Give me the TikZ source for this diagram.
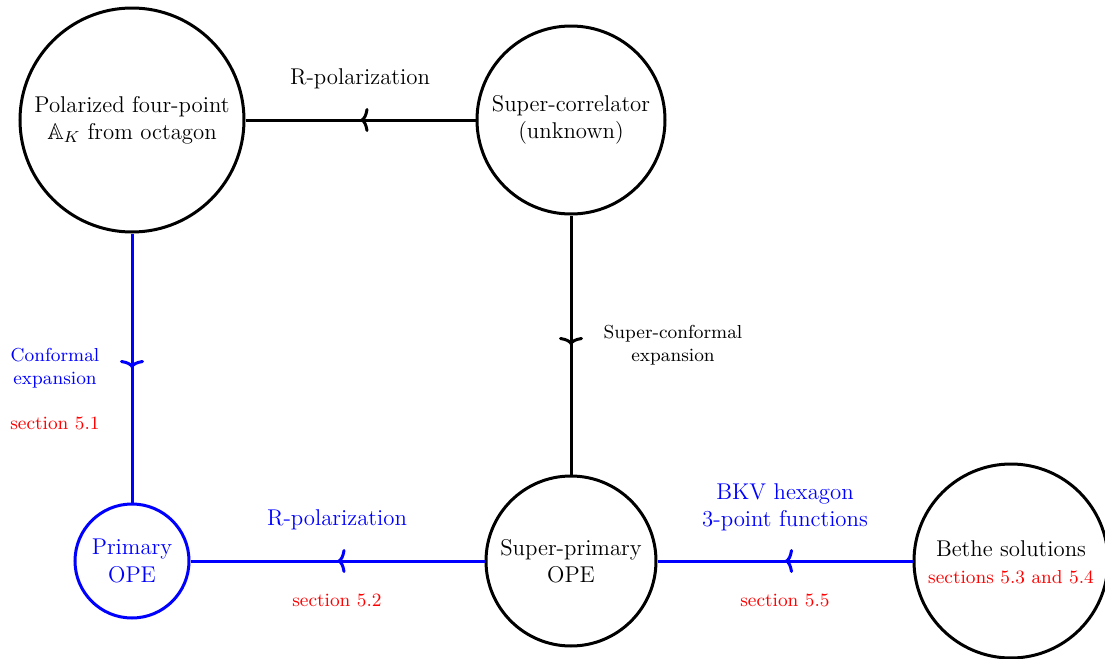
\documentclass[tikz,border=0pt]{standalone}
\usepackage{amssymb}
\usetikzlibrary{decorations.markings,arrows.meta}
\definecolor{myblue}{RGB}{0,0,255}
\definecolor{myred}{RGB}{255,0,0}
\newcommand{\mainsz}{\fontsize{11.4}{13.6}\selectfont}
\newcommand{\smallsz}{\fontsize{9.4}{11.3}\selectfont}
\tikzset{
  bubble/.style={draw, circle, line width=1.5pt, inner sep=0pt, align=center, font=\mainsz},
  edge/.style={line width=1.5pt, postaction={decorate}, decoration={markings, mark=at position 0.5 with {\arrow[line width=1.5pt]{To[length=4pt,width=12pt]}}}},
  lbl/.style={align=center, inner sep=0pt, font=\mainsz},
  slbl/.style={align=center, inner sep=0pt, font=\smallsz},
}
\begin{document}
\begin{tikzpicture}[x=0.5pt,y=-0.5pt]
\useasboundingbox (0,0) rectangle (1105,659);
\node[bubble, minimum size=112pt] (A) at (132,120) {Polarized four-point\\$\mathbb{A}_K$ from octagon};
\node[bubble, minimum size=94pt] (B) at (571,120) {Super-correlator\\(unknown)};
\node[bubble, draw=myblue, text=myblue, minimum size=57pt] (C) at (132,561) {Primary\\OPE};
\node[bubble, minimum size=85pt] (D) at (571,561) {Super-primary\\OPE};
\node[bubble, minimum size=97pt] (E) at (1011,561) {};
\node[lbl] (Et) at (1011,549) {Bethe solutions};
\node[slbl, text=myred] (Es) at (1011,577) {sections 5.3 and 5.4};

\draw[edge] (B) -- (A);
\draw[edge, draw=myblue] (A) -- (C);
\draw[edge] (B) -- (D);
\draw[edge, draw=myblue] (D) -- (C);
\draw[edge, draw=myblue] (E) -- (D);

\node[lbl] (l1) at (360,79) {R-polarization};
\node[slbl] (l2) at (673,345) {Super-conformal\\expansion};
\node[slbl, text=myblue] (l3) at (55,368) {Conformal\\expansion};
\node[slbl, text=myred] (l4) at (55,423) {section 5.1};
\node[lbl, text=myblue] (l5) at (337,520) {R-polarization};
\node[slbl, text=myred] (l6) at (337,600) {section 5.2};
\node[lbl, text=myblue] (l7) at (785,507) {BKV hexagon\\3-point functions};
\node[slbl, text=myred] (l8) at (785,600) {section 5.5};
\end{tikzpicture}
\end{document}
